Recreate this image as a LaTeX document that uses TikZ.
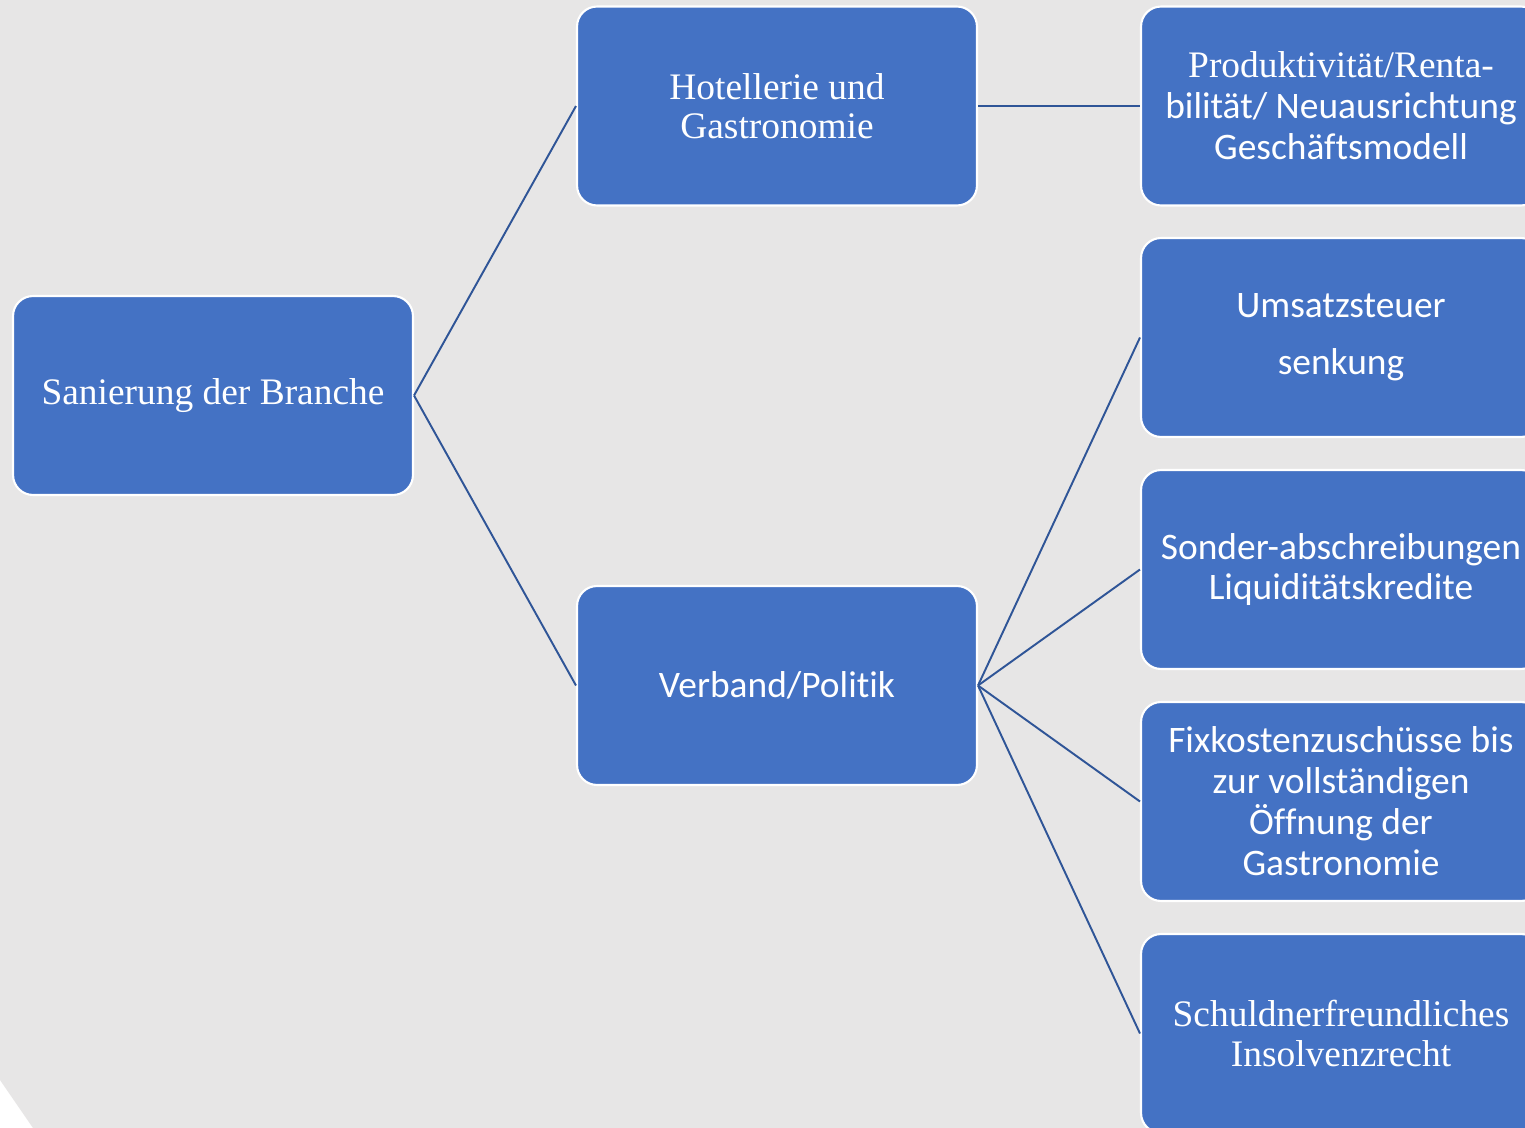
\documentclass[tikz,border=0pt]{standalone}
\usepackage{fontspec}
\setmainfont{Liberation Serif}
\newfontfamily\calfont[Ligatures=NoCommon]{Carlito}
\definecolor{boxblue}{HTML}{4472C4}
\definecolor{linkblue}{HTML}{2F5597}
\definecolor{bggray}{HTML}{E7E6E6}
\tikzset{
	block/.style={rectangle, rounded corners=0.4cm, fill=boxblue, draw=white, line width=1.2pt,
		minimum width=8cm, minimum height=3.98cm, text=white, align=center,
		font=\fontsize{21.3}{23.3}\selectfont, inner sep=2pt},
	serifblock/.style={block, font=\fontsize{21.3}{22.2}\selectfont},
	link/.style={draw=linkblue, line width=1.1pt}
}
\begin{document}
\begin{tikzpicture}[x=0.02cm, y=-0.02cm]
	\clip (0,0) rectangle (1525,1128);
	\fill[white] (0,0) rectangle (1525,1128);
	\fill[bggray] (0,0) -- (1525,0) -- (1525,1128) -- (33,1128) -- (0,1080) -- cycle;
	% left and middle column
	\node[serifblock] (san) at (213,395.5) {Sanierung der Branche};
	\node[serifblock] (hot) at (777,106) {Hotellerie und\\Gastronomie};
	\node[block] (ver) at (777,685.5) {\calfont Verband/Politik};
	% right column
	\node[block] (pro) at (1341,106) {Produktivität/Renta-\\\calfont bilität/ Neuausrichtung\\\calfont Geschäftsmodell};
	\node[block] (ums) at (1341,337.5) {\calfont Umsatzsteuer\\[0.32cm]\calfont senkung};
	\node[block] (son) at (1341,569.5) {\calfont Sonder-abschreibungen\\\calfont Liquiditätskredite};
	\node[block] (fix) at (1341,801.5) {\calfont Fixkostenzuschüsse bis\\\calfont zur vollständigen\\\calfont Öffnung der\\\calfont Gastronomie};
	\node[serifblock] (sch) at (1341,1033.5) {Schuldnerfreundliches\\Insolvenzrecht};
	% connectors
	\draw[link] (san.east) -- (hot.west);
	\draw[link] (san.east) -- (ver.west);
	\draw[link] (hot.east) -- (pro.west);
	\foreach \t in {ums,son,fix,sch}
		\draw[link] (ver.east) -- (\t.west);
\end{tikzpicture}
\end{document}
